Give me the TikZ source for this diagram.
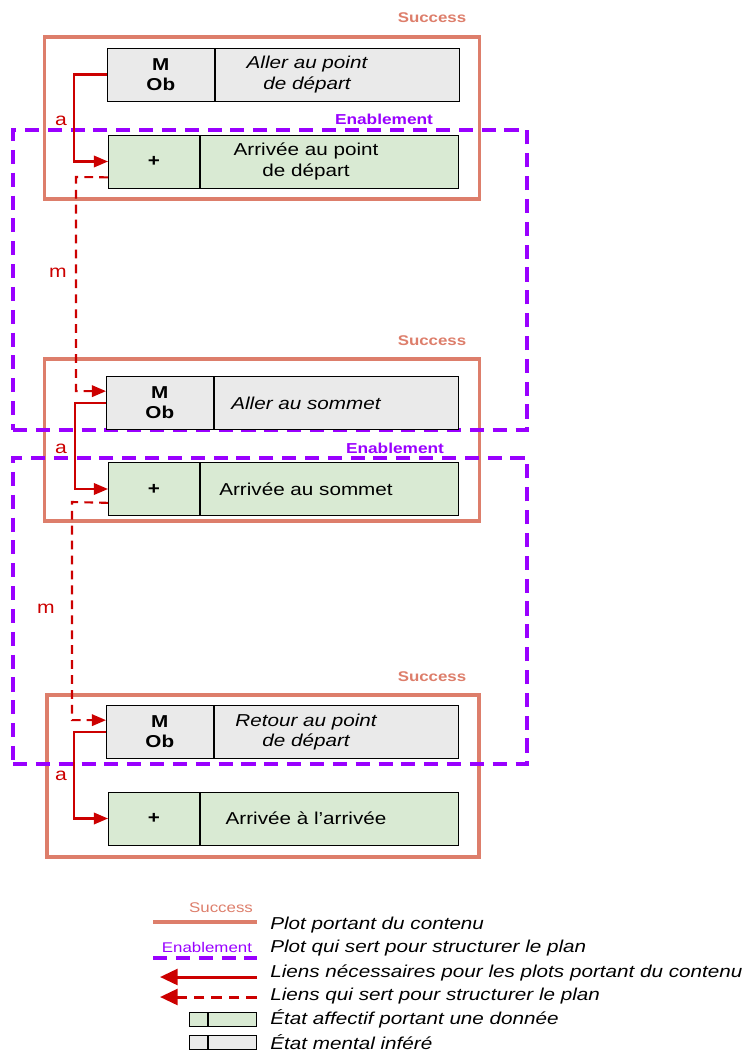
\documentclass[tikz,border=0pt]{standalone}
\usepackage{fontspec}
\setmainfont{Liberation Sans}[FakeStretch=1.2]
\usetikzlibrary{arrows.meta,positioning}
\definecolor{succ}{HTML}{DD7E6B}
\definecolor{enab}{HTML}{9900FF}
\definecolor{lien}{HTML}{CC0000}
\definecolor{grisfond}{HTML}{EAEAEA}
\definecolor{vertfond}{HTML}{D9EAD3}

\begin{document}
\begin{tikzpicture}[
    x=0.02cm, y=-0.02cm,
    success/.style={draw=succ, line width=1.9pt, minimum width=8.7cm, minimum height=3.24cm},
    enabling/.style={draw=enab, line width=2pt, dash pattern=on 8pt off 5pt, minimum width=10.28cm},
    succlbl/.style={text=succ, font=\fontsize{8}{9}\selectfont\bfseries},
    enablbl/.style={text=enab, font=\fontsize{8.2}{9}\selectfont\bfseries},
    mbox/.style={draw, fill=grisfond, minimum width=2.14cm, minimum height=1.06cm, inner sep=0pt,
                 align=center, font=\fontsize{9.8}{11.5}\selectfont\bfseries, anchor=west},
    abox/.style={draw, fill=vertfond, minimum width=1.82cm, minimum height=1.06cm, inner sep=0pt,
                 font=\fontsize{9.8}{11}\selectfont\bfseries, anchor=west},
    mtext/.style={draw, fill=grisfond, minimum width=4.88cm, minimum height=1.06cm, inner sep=0pt,
                  label={[font=\fontsize{9.8}{11.5}\selectfont\itshape, align=center, xshift=-0.6cm]center:{#1}}},
    atext/.style={draw, fill=vertfond, minimum width=5.16cm, minimum height=1.06cm, inner sep=0pt,
                  label={[font=\fontsize{9.8}{11.5}\selectfont, align=center, xshift=-0.46cm]center:{#1}}},
    alink/.style={draw=lien, line width=1.2pt, -{Triangle[length=8pt, width=6.5pt]}},
    mlink/.style={draw=lien, line width=1.2pt, dash pattern=on 5pt off 3.5pt, -{Triangle[length=8pt, width=6.5pt]}},
    lnk/.style={text=lien, font=\fontsize{10}{11}\selectfont},
    legende/.style={anchor=west, font=\fontsize{9.8}{12}\selectfont\itshape, inner sep=0pt}
]
    \useasboundingbox (0,0) rectangle (748,1055);

    % plots de contenu et de structure
    \node[success] (s1) at (262,118) {};
    \node[success] (s2) at (262,440) {};
    \node[success, minimum width=8.64cm] (s3) at (263,776) {};
    \node[enabling, minimum height=6cm] (e1) at (270,280) {};
    \node[enabling, minimum height=6.12cm] (e2) at (270,611) {};
    \node[succlbl] at (432,18) {Success};
    \node[succlbl] at (432,341) {Success};
    \node[succlbl] at (432,677) {Success};
    \node[enablbl] at (384,119) {Enablement};
    \node[enablbl] at (395,448) {Enablement};

    % etats
    \node[mbox] (m1) at (107,74.5) {M\\Ob};
    \node[mtext={Aller au point\\de départ}, right=0pt of m1] (m1t) {};
    \node[abox] (a1) at (108,161.5) {+};
    \node[atext={Arrivée au point\\de départ}, right=0pt of a1] (a1t) {};

    \node[mbox] (m2) at (106,403) {M\\Ob};
    \node[mtext={Aller au sommet}, right=0pt of m2] (m2t) {};
    \node[abox] (a2) at (108,489) {+};
    \node[atext={Arrivée au sommet}, right=0pt of a2] (a2t) {};

    \node[mbox] (m3) at (106,732) {M\\Ob};
    \node[mtext={Retour au point\\de départ}, right=0pt of m3] (m3t) {};
    \node[abox] (a3) at (108,818.5) {+};
    \node[atext={Arrivée à l’arrivée}, right=0pt of a3] (a3t) {};

    % liens
    \draw[alink] (m1.west) -- (74,74.5) |- (a1.west);
    \draw[alink] (m2.west) -- (75,403) |- (a2.west);
    \draw[alink] (m3.west) -- (74,732) |- (a3.west);
    \draw[mlink] ([yshift=0.22cm]a1.south west) -- (76,177) |- ([yshift=-0.3cm]m2.north west);
    \draw[mlink] ([yshift=0.26cm]a2.south west) -- (72,502) |- ([yshift=-0.3cm]m3.north west);
    \node[lnk] at (61,121) {a};
    \node[lnk] at (61,449) {a};
    \node[lnk] at (61,776) {a};
    \node[lnk] at (58,273) {m};
    \node[lnk] at (46,609) {m};

    % legende
    \node[text=succ, font=\fontsize{8}{9}\selectfont] at (221,908) {Success};
    \node[text=enab, font=\fontsize{8}{9}\selectfont] at (207,947) {Enablement};
    \coordinate (l1a) at (153,922); \coordinate (l1b) at (257,922);
    \coordinate (l2a) at (153,958); \coordinate (l2b) at (257,958);
    \coordinate (l3a) at (257,977); \coordinate (l3b) at (160,977);
    \coordinate (l4a) at (257,997); \coordinate (l4b) at (160,997);
    \draw[succ, line width=1.9pt] (l1a) -- (l1b);
    \draw[enab, line width=2pt, dash pattern=on 8pt off 5pt] (l2a) -- (l2b);
    \draw[lien, line width=1.7pt, -{Triangle[length=10pt, width=9pt]}] (l3a) -- (l3b);
    \draw[lien, line width=1.7pt, dash pattern=on 6pt off 4pt, -{Triangle[length=10pt, width=9pt]}] (l4a) -- (l4b);
    \node[draw, fill=vertfond, minimum width=0.36cm, minimum height=0.28cm, inner sep=0pt, anchor=west] (lv1) at (189,1019) {};
    \node[draw, fill=vertfond, minimum width=0.96cm, minimum height=0.28cm, inner sep=0pt, right=0pt of lv1] (lv2) {};
    \node[draw, fill=grisfond, minimum width=0.36cm, minimum height=0.28cm, inner sep=0pt, anchor=west] (lg1) at (189,1042.5) {};
    \node[draw, fill=grisfond, minimum width=0.96cm, minimum height=0.28cm, inner sep=0pt, right=0pt of lg1] (lg2) {};
    \node[legende] at (270,925) {Plot portant du contenu};
    \node[legende] at (270,948) {Plot qui sert pour structurer le plan};
    \node[legende] at (270,973) {Liens nécessaires pour les plots portant du contenu};
    \node[legende] at (270,996) {Liens qui sert pour structurer le plan};
    \node[legende] at (270,1019) {État affectif portant une donnée};
    \node[legende] at (270,1042) {État mental inféré};
\end{tikzpicture}
\end{document}
